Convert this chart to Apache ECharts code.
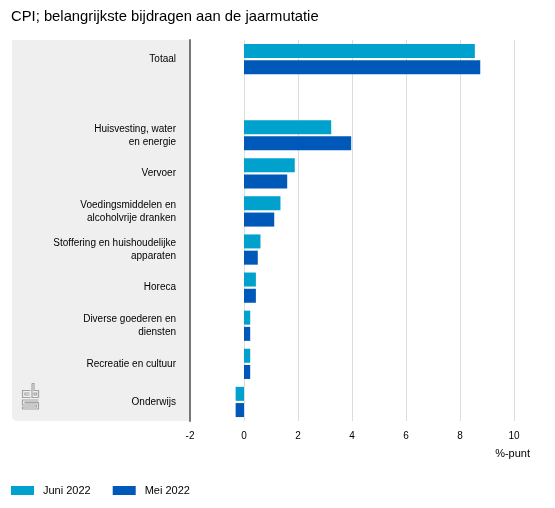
<!DOCTYPE html>
<html><head><meta charset="utf-8">
<script src="https://cdn.jsdelivr.net/npm/echarts@6/dist/echarts.min.js"></script>
<style>html,body{margin:0;padding:0;background:#fff}#c{width:555px;height:508px}</style>
</head><body><div id="c"></div>
<script>
const categories = ['Totaal', '', 'Huisvesting, water\nen energie', 'Vervoer', 'Voedingsmiddelen en\nalcoholvrije dranken', 'Stoffering en huishoudelijke\napparaten', 'Horeca', 'Diverse goederen en\ndiensten', 'Recreatie en cultuur', 'Onderwijs'];
const juni2022 = [8.55, null, 3.23, 1.88, 1.35, 0.61, 0.44, 0.23, 0.23, -0.31];
const mei2022 = [8.75, null, 3.97, 1.60, 1.12, 0.51, 0.44, 0.23, 0.23, -0.31];
const xTicks = [-2, 0, 2, 4, 6, 8, 10];

const FONT = '"Liberation Sans", Arial, Helvetica, sans-serif';
const chart = echarts.init(document.getElementById('c'), null, {renderer: 'canvas'});
const G = {left: 190, top: 40, right: 41, bottom: 87};
const logoStroke = {stroke: '#a3a3a3', lineWidth: 1.2, fill: null};
chart.setOption({
  animation: false,
  title: {text: 'CPI; belangrijkste bijdragen aan de jaarmutatie', left: 11, top: 9, padding: 0,
    textStyle: {fontFamily: FONT, fontSize: 14.8, fontWeight: 'normal', color: '#000'}},
  graphic: [
    {type: 'rect', z: -10, shape: {x: 12, y: G.top, width: G.left - 12, height: 508 - G.top - G.bottom, r: [0, 0, 0, 5]}, style: {fill: '#efefef'}},
    {type: 'group', x: 22.5, y: 383.5, children: [
      {type: 'polyline', shape: {points: [[8, 7], [0, 7], [0, 14], [8, 14]]}, style: logoStroke},
      {type: 'polyline', shape: {points: [[7, 9.5], [2.5, 9.5], [2.5, 11.5], [7, 11.5]]}, style: logoStroke},
      {type: 'polyline', shape: {points: [[9.5, 0], [9.5, 14], [16, 14], [16, 7], [11.5, 7], [11.5, 0], [9.5, 0]]}, style: logoStroke},
      {type: 'rect', shape: {x: 11.5, y: 9.5, width: 2.5, height: 2}, style: logoStroke},
      {type: 'polyline', shape: {points: [[16, 16.5], [0, 16.5], [0, 21.5], [14, 21.5], [14, 23.5], [0, 23.5], [0, 25.5], [16, 25.5], [16, 19.5], [2.5, 19.5], [2.5, 18.5], [16, 18.5]]}, style: logoStroke}
    ]},
    {type: 'text', right: 25, top: 448, style: {text: '%-punt', fontFamily: FONT, fontSize: 11, fill: '#000'}}
  ],
  legend: {left: 11, top: 485, padding: 0, itemWidth: 23, itemHeight: 9, itemGap: 22, icon: 'rect',
    textStyle: {fontFamily: FONT, fontSize: 11, color: '#000', padding: [0, 0, 0, 4]},
    data: ['Juni 2022', 'Mei 2022']},
  grid: {left: G.left, top: G.top, right: G.right, bottom: G.bottom, containLabel: false},
  xAxis: {type: 'value', min: xTicks[0], max: xTicks[xTicks.length - 1], interval: 2,
    axisLine: {show: false}, axisTick: {show: false},
    axisLabel: {fontFamily: FONT, fontSize: 10, color: '#000', margin: 10},
    splitLine: {show: true, lineStyle: {color: '#dcdcdc', width: 1}}},
  yAxis: {type: 'category', inverse: true, data: categories,
    axisLine: {show: true, onZero: false, lineStyle: {color: '#777', width: 2}},
    axisTick: {show: false},
    axisLabel: {fontFamily: FONT, fontSize: 10, color: '#000', margin: 14, lineHeight: 13, interval: 0, padding: [3, 0, 0, 0]}},
  series: [
    {name: 'Juni 2022', type: 'bar', data: juni2022, barWidth: 14, barGap: '16%', itemStyle: {color: '#00a1cd'}},
    {name: 'Mei 2022', type: 'bar', data: mei2022, barWidth: 14, barGap: '16%', itemStyle: {color: '#0058b8'}}
  ]
});
</script></body></html>
